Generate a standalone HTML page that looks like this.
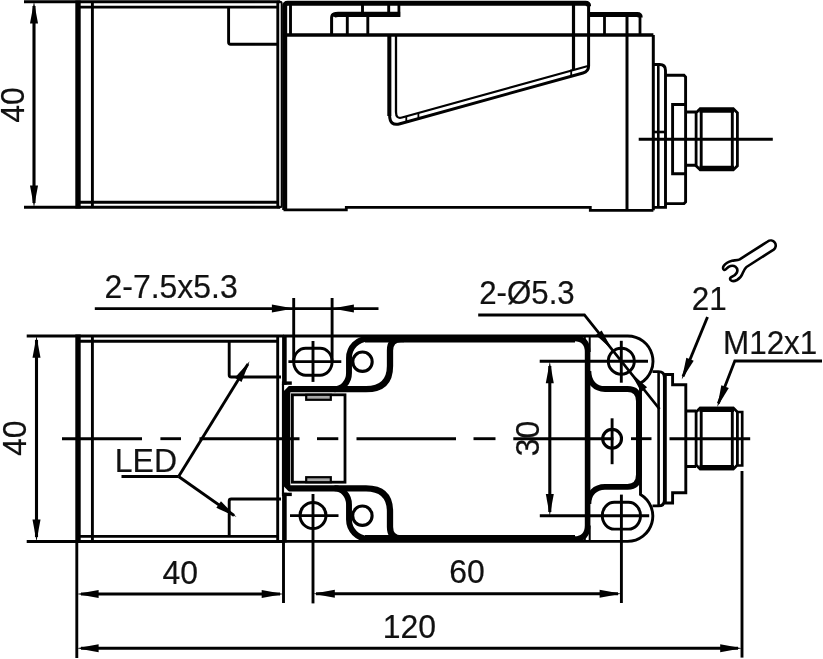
<!DOCTYPE html>
<html><head><meta charset="utf-8"><title>Dimension drawing</title>
<style>
html,body{margin:0;padding:0;background:#fff;}
svg{display:block;will-change:transform;opacity:0.999;}
svg *{stroke:#000;fill:none;stroke-linecap:butt;}
svg text{font-family:"Liberation Sans",sans-serif;fill:#111;stroke:#111;stroke-width:0.2px;}
svg .f{fill:#000;stroke:none;}
</style></head><body>
<svg width="823" height="659" viewBox="0 0 823 659">
<line x1="24" y1="1.8" x2="280" y2="1.8" stroke-width="2.9" />
<line x1="24" y1="207.3" x2="280" y2="207.3" stroke-width="2.9" />
<line x1="78" y1="0.6" x2="78" y2="208.4" stroke-width="5.4" />
<line x1="92.4" y1="2" x2="92.4" y2="207" stroke-width="2.9" />
<line x1="78" y1="7.1" x2="279" y2="7.1" stroke-width="2.9" />
<line x1="78" y1="202.2" x2="279" y2="202.2" stroke-width="2.9" />
<line x1="277.8" y1="1.8" x2="277.8" y2="207.3" stroke-width="2.9" />
<path d="M277 1.8 H280 Q281.7 1.8 281.7 4 V205 Q281.7 207.3 280 207.3 H277" stroke-width="2" />
<path d="M228.6 7.1 V42.2 Q228.6 44.2 230.6 44.2 H278" stroke-width="2.9" />
<line x1="34" y1="6" x2="34" y2="203" stroke-width="3.1" />
<polygon class="f" points="34.00,1.80 38.00,23.60 30.00,23.60"/>
<polygon class="f" points="34.00,207.30 30.00,185.50 38.00,185.50"/>
<text transform="translate(24 105) rotate(-90) scale(0.99 1)" font-size="32.3" text-anchor="middle" >40</text>
<path d="M284.7 210 V6.2 Q284.7 3.2 287.7 3.2 H585.5 Q588.6 3.2 588.6 6.2" stroke-width="5.0" />
<path d="M588.6 5 V66 Q588.6 71.5 583 73 L400 123.7 Q389.6 126.6 389.6 115 V35" stroke-width="3.0" />
<line x1="389.3" y1="35" x2="389.3" y2="116" stroke-width="4" />
<path d="M283.5 209.8 H346.3 V207.4 H590.3 V210.3 H653.4" stroke-width="2.8" />
<line x1="290.5" y1="5" x2="290.5" y2="35" stroke-width="2.9" />
<line x1="285" y1="35" x2="653.4" y2="35" stroke-width="3.3" />
<path d="M331.6 35 V17.5 Q331.6 14.3 336 14.3 H400" stroke-width="3" />
<path d="M333 16.2 Q334 14.4 338 14.4 H400.2" stroke-width="5.4" />
<line x1="347.3" y1="14" x2="347.3" y2="35" stroke-width="2.9" />
<line x1="367.8" y1="14" x2="367.8" y2="35" stroke-width="2.9" />
<line x1="362.5" y1="5" x2="362.5" y2="12.5" stroke-width="2.9" />
<line x1="388.7" y1="5" x2="388.7" y2="12.5" stroke-width="2.9" />
<line x1="398.9" y1="5" x2="398.9" y2="16.8" stroke-width="2.8" />
<path d="M396 35 V112 Q396 119.2 402 117.5 L588 66" stroke-width="2.3" />
<line x1="406.3" y1="116.3" x2="406.3" y2="122" stroke-width="1.8" />
<line x1="418.4" y1="113" x2="418.4" y2="118.7" stroke-width="1.8" />
<line x1="571.2" y1="69.5" x2="571.2" y2="76.3" stroke-width="1.8" />
<line x1="573.5" y1="5" x2="573.5" y2="70" stroke-width="3.2" />
<path d="M589 14.4 H637.2 Q640.2 14.4 640.2 17.4" stroke-width="5.0" />
<line x1="640" y1="16" x2="640" y2="35" stroke-width="2.8" />
<line x1="604.5" y1="14" x2="604.5" y2="35" stroke-width="2.8" />
<line x1="627" y1="14" x2="627" y2="210.3" stroke-width="3" />
<line x1="653.3" y1="35" x2="653.3" y2="210.3" stroke-width="3" />
<path d="M653.3 64.5 H659.6 Q665.5 64.5 665.5 70.5 V207.4 H653.3" stroke-width="2.9" />
<line x1="658.3" y1="64.5" x2="658.3" y2="207.4" stroke-width="2.6" />
<line x1="653.3" y1="132" x2="665.5" y2="132" stroke-width="2.6" />
<path d="M665.5 75.3 H684 L685.6 77 V202 L684 203.6 H665.5" stroke-width="2.9" />
<path d="M685.6 104.5 H672.6 V173.8 H685.6" stroke-width="2.9" />
<path d="M685.6 112 H696 M685.6 165.3 H696" stroke-width="2.9" />
<path d="M696.1 112.8 L700 108.89999999999999 H733.5 L737.4 112.8 V165.8 L733.5 169.7 H700 L696.1 165.8 Z" stroke-width="2.8" />
<line x1="699.5" y1="110.1" x2="734" y2="110.1" stroke-width="5.3" />
<line x1="699.5" y1="168.5" x2="734" y2="168.5" stroke-width="5.3" />
<line x1="701.2" y1="110.1" x2="701.2" y2="168.5" stroke-width="2.9" />
<line x1="732.3" y1="110.1" x2="732.3" y2="168.5" stroke-width="2.9" />
<line x1="638.7" y1="139.3" x2="772.8" y2="139.3" stroke-width="2.9" />
<line x1="26.7" y1="336" x2="284" y2="336" stroke-width="2.9" />
<line x1="26.7" y1="541.5" x2="284" y2="541.5" stroke-width="2.9" />
<line x1="78" y1="334.6" x2="78" y2="542.9" stroke-width="5.4" />
<line x1="76.8" y1="541" x2="76.8" y2="658" stroke-width="2.9" />
<line x1="92.4" y1="336" x2="92.4" y2="541.4" stroke-width="2.9" />
<line x1="78" y1="341.3" x2="279" y2="341.3" stroke-width="2.9" />
<line x1="78" y1="536.4" x2="279" y2="536.4" stroke-width="2.9" />
<line x1="277.7" y1="336" x2="277.7" y2="541.4" stroke-width="2.9" />
<path d="M229.2 341.3 V375 Q229.2 377 231.2 377 H281" stroke-width="2.9" />
<path d="M229.2 536.4 V501 Q229.2 499 231.2 499 H281" stroke-width="2.9" />
<line x1="36.5" y1="340" x2="36.5" y2="537" stroke-width="3.1" />
<polygon class="f" points="36.50,336.00 40.50,357.80 32.50,357.80"/>
<polygon class="f" points="36.50,541.40 32.50,519.60 40.50,519.60"/>
<text transform="translate(26.2 438.3) rotate(-90) scale(0.99 1)" font-size="32.3" text-anchor="middle" >40</text>
<text transform="translate(104.5 297.7) scale(0.99 1)" font-size="32.3" text-anchor="start" >2-7.5x5.3</text>
<line x1="94.8" y1="308.6" x2="378.5" y2="308.6" stroke-width="2.9" />
<polygon class="f" points="293.70,308.60 271.90,312.60 271.90,304.60"/>
<polygon class="f" points="332.10,308.60 353.90,304.60 353.90,312.60"/>
<line x1="293.7" y1="298" x2="293.7" y2="362" stroke-width="2.9" />
<line x1="332.1" y1="298" x2="332.1" y2="362" stroke-width="2.9" />
<rect x="293.7" y="348.2" width="38.4" height="27" rx="12" ry="13.5" stroke-width="2.9"/>
<line x1="288.4" y1="361.6" x2="341.3" y2="361.6" stroke-width="2.9" />
<line x1="313" y1="341" x2="313" y2="381.9" stroke-width="2.9" />
<circle cx="313" cy="515.5" r="13" stroke-width="3"/>
<line x1="290" y1="515.6" x2="338.5" y2="515.6" stroke-width="2.9" />
<line x1="313" y1="494" x2="313" y2="603.4" stroke-width="2.9" />
<circle cx="362.5" cy="361.7" r="9.7" stroke-width="3.1"/>
<circle cx="362.4" cy="515.7" r="9.7" stroke-width="3.1"/>
<circle cx="621.3" cy="361.2" r="13" stroke-width="3"/>
<line x1="539.7" y1="361.3" x2="648" y2="361.3" stroke-width="2.9" />
<line x1="621.3" y1="340.8" x2="621.3" y2="382.7" stroke-width="2.9" />
<rect x="602.3" y="502.3" width="38.2" height="26.8" rx="12" ry="13.4" stroke-width="2.9"/>
<line x1="539.8" y1="515.8" x2="649.2" y2="515.8" stroke-width="2.9" />
<line x1="621.4" y1="494.6" x2="621.4" y2="603" stroke-width="2.9" />
<circle cx="612.1" cy="438.8" r="9.4" stroke-width="3.1"/>
<line x1="612.1" y1="418.3" x2="612.1" y2="464.2" stroke-width="2.9" />
<path d="M283.5 336 H627.7 A25.3 25.3 0 0 1 640.5 383.1 V494.4 A25.3 25.3 0 0 1 627.7 541.4 H283.5" stroke-width="2.9" />
<line x1="284.4" y1="335" x2="284.4" y2="542.4" stroke-width="4.6" />
<path d="M365 339.0 H575 M365 538.5 H575" stroke-width="6.8" />
<path d="M572 338.4 H574.5 Q587.6 338.4 587.6 352 V525.5 Q587.6 539.1 574.5 539.1 H572" stroke-width="5.6" />
<path d="M404 538.5 H401 Q390 538.5 390 527.0 V511.5 Q390 488.3 366 488.3 H287.2 V389.2 H366 Q390 389.2 390 366 V350.5 Q390 339.0 401 339.0 H404" stroke-width="6.3" />
<path d="M370 338.7 H368 C357.5 338.7 349 347.5 349 358 V373 C349 382 342.5 389.2 334.5 389.2" stroke-width="5.9" />
<path d="M370 538.8 H368 C357.5 538.8 349 530.0 349 519.5 V504.5 C349 495.5 342.5 488.3 334.5 488.3" stroke-width="5.9" />
<path d="M588.4 371 C588.4 382 595 389.0 605 389.0 H627.5 Q638.9 389.0 638.9 401 V474.5 Q638.9 486.8 627.5 486.8 H605 C595 486.8 588.4 493.5 588.4 504" stroke-width="5.8" />
<polygon points="283.7,391.20 283.7,384.80 290,384.80" style="fill:#fff;stroke:none"/>
<line x1="281.9" y1="383.1" x2="291.8" y2="383.1" stroke-width="3.4" />
<polygon points="283.7,486.30 283.7,492.70 290,492.70" style="fill:#fff;stroke:none"/>
<line x1="281.9" y1="494.4" x2="291.8" y2="494.4" stroke-width="3.4" />
<line x1="283" y1="384" x2="283" y2="493.5" stroke-width="2.2" />
<path d="M589.7 336 V352 M584.8 336 V343 M589.7 541.5 V525.5 M584.8 541.5 V534.5" stroke-width="2" />
<rect x="292.4" y="394.8" width="52.6" height="87.4" stroke-width="2.8"/>
<rect x="306.2" y="394.8" width="24.6" height="5" stroke-width="2.2" style="fill:#a8a8a8"/>
<rect x="306.2" y="477.2" width="24.6" height="5" stroke-width="2.2" style="fill:#a8a8a8"/>
<line x1="62" y1="438.7" x2="142" y2="438.7" stroke-width="2.9" />
<line x1="160.4" y1="438.7" x2="181" y2="438.7" stroke-width="2.9" />
<line x1="199.5" y1="438.7" x2="299.5" y2="438.7" stroke-width="2.9" />
<line x1="317" y1="438.7" x2="338.3" y2="438.7" stroke-width="2.9" />
<line x1="356.5" y1="438.7" x2="456" y2="438.7" stroke-width="2.9" />
<line x1="473.5" y1="438.7" x2="495.5" y2="438.7" stroke-width="2.9" />
<line x1="513.3" y1="438.7" x2="613.4" y2="438.7" stroke-width="2.9" />
<line x1="631" y1="438.7" x2="651.5" y2="438.7" stroke-width="2.9" />
<line x1="669.5" y1="438.7" x2="750.2" y2="438.7" stroke-width="2.9" />
<path d="M652.5 371.6 H658.5 Q664.4 371.6 664.4 377.5 V500.0 Q664.4 505.9 658.5 505.9 H652.5" stroke-width="2.9" />
<line x1="658.6" y1="371.5" x2="658.6" y2="506.0" stroke-width="2.6" />
<line x1="665.6" y1="374.5" x2="665.6" y2="503.0" stroke-width="2.4" />
<path d="M663.6 374.5 H672.6 V384.7 H685.8 V492.8 H672.6 V503.0 H663.6" stroke-width="2.9" />
<path d="M685.8 411 H696 M685.8 466.5 H696" stroke-width="2.9" />
<path d="M696.1 412.0 L700 408.1 H733.5 L737.4 412.0 V465.0 L733.5 468.9 H700 L696.1 465.0 Z" stroke-width="2.8" />
<line x1="699.5" y1="409.3" x2="734" y2="409.3" stroke-width="5.3" />
<line x1="699.5" y1="467.7" x2="734" y2="467.7" stroke-width="5.3" />
<line x1="701.2" y1="409.3" x2="701.2" y2="467.7" stroke-width="2.9" />
<line x1="732.3" y1="409.3" x2="732.3" y2="467.7" stroke-width="2.9" />
<path d="M737.4 412 H742.2 V465.5 H737.4" stroke-width="2.7" />
<text transform="translate(479.2 304) scale(0.968 1)" font-size="32.3" text-anchor="start" >2-Ø5.3</text>
<path d="M478.2 315 H584.4 L659.5 409" stroke-width="2.8" />
<polygon class="f" points="612.30,349.80 595.74,335.12 601.68,330.39"/>
<polygon class="f" points="630.50,372.60 647.06,387.28 641.12,392.01"/>
<text transform="translate(691.8 310) scale(0.973 1)" font-size="32.3" text-anchor="start" >21</text>
<line x1="707.5" y1="317" x2="683" y2="376.5" stroke-width="2.9" />
<polygon class="f" points="681.70,379.40 686.33,357.73 693.73,360.78"/>
<text transform="translate(723 354.2) scale(0.973 1)" font-size="32.3" text-anchor="start" >M12x1</text>
<path d="M822 361 H734.8 L718.3 403.5" stroke-width="2.8" />
<polygon class="f" points="717.20,406.90 721.34,385.13 728.80,388.01"/>
<text transform="translate(114.8 472) scale(0.99 1)" font-size="32.3" text-anchor="start" >LED</text>
<path d="M121.5 476.5 H178.6" stroke-width="2.9" />
<line x1="178.6" y1="476.5" x2="248" y2="364" stroke-width="2.9" />
<line x1="178.6" y1="476.5" x2="234" y2="515.5" stroke-width="2.9" />
<polygon class="f" points="249.60,361.30 241.57,381.96 234.76,377.76"/>
<polygon class="f" points="236.50,517.10 216.35,507.86 220.95,501.31"/>
<line x1="549.8" y1="366" x2="549.8" y2="512" stroke-width="3.1" />
<polygon class="f" points="549.80,361.50 553.80,383.30 545.80,383.30"/>
<polygon class="f" points="549.80,515.80 545.80,494.00 553.80,494.00"/>
<text transform="translate(538.7 438.6) rotate(-90) scale(0.99 1)" font-size="32.3" text-anchor="middle" >30</text>
<line x1="81" y1="594" x2="280" y2="594" stroke-width="3.1" />
<polygon class="f" points="76.80,594.00 98.60,590.00 98.60,598.00"/>
<polygon class="f" points="283.50,594.00 261.70,598.00 261.70,590.00"/>
<line x1="283.5" y1="541" x2="283.5" y2="603" stroke-width="2.9" />
<text transform="translate(180.2 583.5) scale(0.99 1)" font-size="32.3" text-anchor="middle" >40</text>
<line x1="316" y1="593.8" x2="618" y2="593.8" stroke-width="3.1" />
<polygon class="f" points="313.00,593.80 334.80,589.80 334.80,597.80"/>
<polygon class="f" points="621.40,593.80 599.60,597.80 599.60,589.80"/>
<text transform="translate(467.1 583.3) scale(0.99 1)" font-size="32.3" text-anchor="middle" >60</text>
<line x1="81" y1="648.3" x2="738" y2="648.3" stroke-width="3.1" />
<polygon class="f" points="76.80,648.30 98.60,644.30 98.60,652.30"/>
<polygon class="f" points="742.00,648.30 720.20,652.30 720.20,644.30"/>
<line x1="742" y1="471" x2="742" y2="657.6" stroke-width="2.9" />
<text transform="translate(409.4 637.5) scale(0.99 1)" font-size="32.3" text-anchor="middle" >120</text>
<path d="M739.7 259.3 L767.7 241.5 A3.9 3.9 0 0 1 773.7 249.6 L746.5 267 C744.5 268.5 743.6 271 742.6 273.4 C741.5 276.5 739.7 278.5 737 280 C734.5 281.3 732 281.5 730.7 280.2 C729.6 279 730 277.8 731.5 277 C733.5 276.2 735.5 275 736.6 273 C737.8 270.8 737.4 268.3 735.5 266.8 C733.5 265.3 730.5 265.8 728.6 266.8 C727 267.8 725.5 270.5 724.3 270 C722.6 269.4 722.8 267.2 723.8 265.8 C725.5 263.4 728.5 261.6 732 260.7 C734.8 260.2 737.5 260.6 739.7 259.3 Z" stroke-width="2.6" stroke-linejoin="round"/>
</svg>
</body></html>
